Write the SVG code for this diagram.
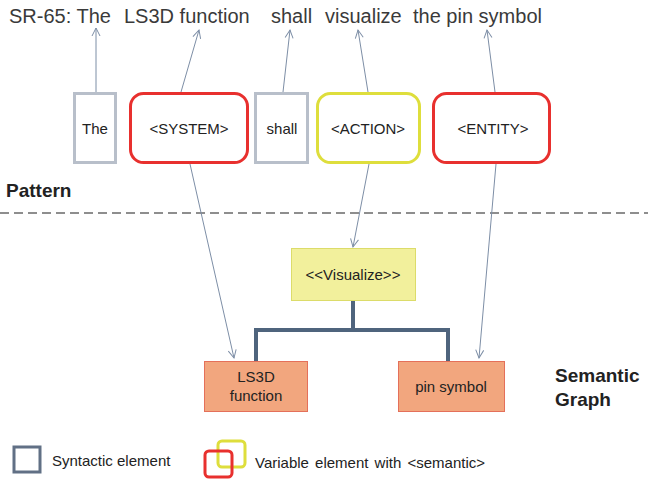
<svg xmlns="http://www.w3.org/2000/svg" width="648" height="479" viewBox="0 0 648 479">
  <style>
    .title { font-family: "Liberation Sans", Arial, sans-serif; font-size: 20px; fill: #3a3a3a; }
    .lbl { font-family: "Liberation Sans", Arial, sans-serif; font-size: 15px; fill: #222; text-anchor: middle; }
    .head { font-family: "Liberation Sans", Arial, sans-serif; font-size: 19px; font-weight: bold; fill: #222; }
    .legend { font-family: "Liberation Sans", Arial, sans-serif; font-size: 15px; fill: #222; }
    .syn { fill: #fff; stroke: #b8bfca; stroke-width: 3; }
    .varRed { fill: #fff; stroke: #e8302e; stroke-width: 3; }
    .varYel { fill: #fff; stroke: #dede3c; stroke-width: 3; }
    .link { stroke: #7d8ea6; stroke-width: 1; fill: none; marker-end: url(#open); }
    .tree { stroke: #4f647d; stroke-width: 4; fill: none; }
    .sem { fill: #f2a67e; stroke: #e4705a; stroke-width: 1; }
  </style>
  <defs>
    <marker id="open" viewBox="0 0 10 10" refX="9" refY="5" markerWidth="10" markerHeight="10" markerUnits="userSpaceOnUse" orient="auto">
      <path d="M1,1 L9,5 L1,9" fill="none" stroke="#7d8ea6" stroke-width="1"/>
    </marker>
  </defs>

  <rect width="648" height="479" fill="#fff"/>

  <!-- requirement sentence -->
  <g id="sentence">
    <text class="title" x="9" y="23">SR-65: The</text>
    <text class="title" x="124" y="23">LS3D function</text>
    <text class="title" x="271" y="23">shall</text>
    <text class="title" x="325" y="23">visualize</text>
    <text class="title" x="413" y="23">the pin symbol</text>
  </g>

  <!-- pattern elements -->
  <g id="the">
    <rect class="syn" x="74.5" y="93.5" width="41" height="69"/>
    <text class="lbl" x="95" y="134">The</text>
  </g>
  <g id="system">
    <rect class="varRed" x="130.5" y="93.5" width="117" height="69" rx="13"/>
    <text class="lbl" x="189" y="134">&lt;SYSTEM&gt;</text>
  </g>
  <g id="shall">
    <rect class="syn" x="255.5" y="93.5" width="52" height="69"/>
    <text class="lbl" x="282" y="134">shall</text>
  </g>
  <g id="action">
    <rect class="varYel" x="317.5" y="93.5" width="102" height="69" rx="13"/>
    <text class="lbl" x="368" y="134">&lt;ACTION&gt;</text>
  </g>
  <g id="entity">
    <rect class="varRed" x="433.5" y="93.5" width="116" height="69" rx="13"/>
    <text class="lbl" x="493" y="134">&lt;ENTITY&gt;</text>
  </g>

  <g id="pattern-label">
    <text class="head" x="6" y="197">Pattern</text>
  </g>
  <line x1="0" y1="213" x2="648" y2="213" stroke="#8e8e8e" stroke-width="2" stroke-dasharray="9,5"/>

  <!-- semantic graph nodes -->
  <g id="visualize">
    <rect x="291.5" y="248.5" width="124" height="52" fill="#f2f09c" stroke="#dcdc6a" stroke-width="1"/>
    <text class="lbl" x="353" y="280">&lt;&lt;Visualize&gt;&gt;</text>
  </g>
  <g id="ls3d-function">
    <rect class="sem" x="204.5" y="361.5" width="103" height="50"/>
    <text class="lbl" x="256" y="382">LS3D</text>
    <text class="lbl" x="256" y="401">function</text>
  </g>
  <g id="pin-symbol">
    <rect class="sem" x="398.5" y="361.5" width="106" height="50"/>
    <text class="lbl" x="451" y="392">pin symbol</text>
  </g>

  <g id="semantic-graph-label">
    <text class="head" x="555" y="382">Semantic</text>
    <text class="head" x="555" y="406">Graph</text>
  </g>

  <!-- connectors -->
  <g id="connectors">
    <line class="link" x1="96" y1="92" x2="96" y2="28"/>
    <line class="link" x1="181" y1="92" x2="199" y2="30"/>
    <line class="link" x1="283" y1="92" x2="290" y2="30"/>
    <line class="link" x1="368" y1="92" x2="358" y2="30"/>
    <line class="link" x1="495" y1="92" x2="487" y2="30"/>
    <line class="link" x1="190" y1="164" x2="234" y2="358"/>
    <line class="link" x1="369" y1="164" x2="353" y2="247"/>
    <line class="link" x1="496" y1="164" x2="479" y2="358"/>
    <path class="tree" d="M353,301 V330 M256,361 V330 H448 V361"/>
  </g>

  <!-- legend -->
  <g id="legend-syntactic">
    <rect x="14" y="447" width="26" height="25" fill="#fff" stroke="#617085" stroke-width="3"/>
    <text class="legend" x="52" y="466">Syntactic element</text>
  </g>
  <g id="legend-variable">
    <rect x="218" y="441" width="27" height="26" rx="4" fill="none" stroke="#dede3c" stroke-width="3"/>
    <rect x="205" y="451" width="27" height="26" rx="4" fill="none" stroke="#e8302e" stroke-width="3"/>
    <text class="legend" x="255" y="468" word-spacing="2">Variable element with &lt;semantic&gt;</text>
  </g>
</svg>
